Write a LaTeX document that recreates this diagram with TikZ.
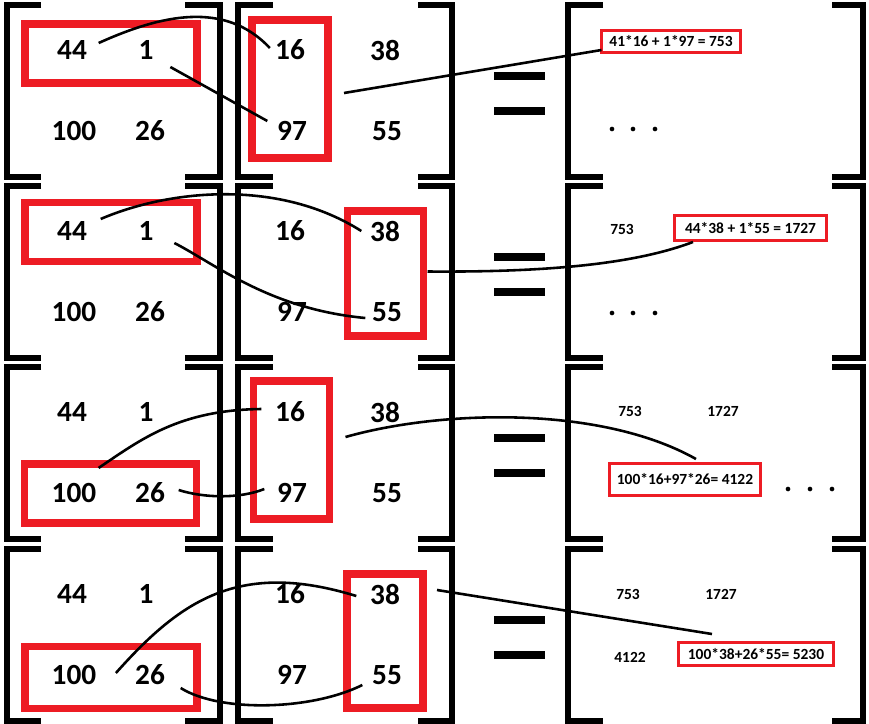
\documentclass[tikz,border=0pt]{standalone}
\usepackage{fontspec}
\setmainfont{Carlito}
\definecolor{PaintRed}{RGB}{237,28,36}
\tikzset{
  num/.style={font=\fontsize{25}{25}\selectfont\bfseries,inner sep=2pt,outer sep=0pt},
  entry/.style={font=\fontsize{13.2}{14}\selectfont\bfseries,inner sep=1pt,outer sep=0pt},
  brk/.style={draw=black,line width=4.3pt},
  eqbar/.style={draw=black,line width=7pt},
  link/.style={draw=black,line width=2.2pt},
  rowsel/.style={draw=PaintRed,line width=6.8pt,outer sep=0pt,
    minimum width=5.16cm,minimum height=1.77cm},
  colsel/.style={draw=PaintRed,line width=6.8pt,outer sep=0pt,
    minimum width=2.28cm,minimum height=4.14cm},
  resbox/.style={draw=PaintRed,line width=2.8pt,outer sep=0pt,inner sep=0pt,
    font=\fontsize{13.2}{14}\selectfont\bfseries},
}

\begin{document}
\begin{tikzpicture}[x=0.03cm,y=-0.03cm]
\useasboundingbox (0,0) rectangle (869,723);
% selected row and column
\node[rowsel] (rsel1) at (111,53.5) {};
\node[colsel] (csel1) at (290,89) {};
\node[rowsel] (rsel2) at (111,232) {};
\node[colsel,minimum height=3.75cm] (csel2) at (385.5,273.5) {};
\node[rowsel] (rsel3) at (110.5,493.5) {};
\node[colsel] (csel3) at (291.5,450) {};
\node[rowsel,minimum height=1.86cm] (rsel4) at (111,677.5) {};
\node[colsel,minimum height=4.02cm] (csel4) at (385,641) {};

% brackets, entries and equals signs
\foreach \r/\oy in {1/0,2/181,3/362,4/544}{
  \foreach \xa/\xb in {7/41,220/185,238/273,452/418,568/603,863/832}
    \draw[brk] (\xb,\oy+5) -- (\xa,\oy+5) -- (\xa,\oy+177) -- (\xb,\oy+177);
  \draw[eqbar] (494,\oy+76) -- (545,\oy+76);
  \draw[eqbar] (494,\oy+111) -- (545,\oy+111);
  \node[num] (l11-\r) at (72,\oy+50) {44};
  \node[num] (l12-\r) at (146,\oy+50) {1};
  \node[num] (l21-\r) at (74,\oy+131) {100};
  \node[num] (l22-\r) at (150,\oy+131) {26};
  \node[num] (r11-\r) at (290,\oy+50) {16};
  \node[num] (r12-\r) at (385,\oy+50) {38};
  \node[num] (r21-\r) at (292,\oy+131) {97};
  \node[num] (r22-\r) at (387,\oy+131) {55};
}

% result entries
\node[resbox,minimum width=4.17cm,minimum height=0.66cm] (res1) at (671,41.5) {41*16 + 1*97 = 753};
\node[entry] (p753-2) at (622,229) {753};
\node[resbox,minimum width=4.56cm,minimum height=0.75cm] (res2) at (750.5,228) {44*38 + 1*55 = 1727};
\node[entry] (p753-3) at (630,411) {753};
\node[entry] (p1727-3) at (723,411) {1727};
\node[resbox,minimum width=4.53cm,minimum height=0.96cm] (res3) at (685,479.5) {100*16+97*26= 4122};
\node[entry] (p753-4) at (628,594) {753};
\node[entry] (p1727-4) at (721,594) {1727};
\node[entry] (p4122-4) at (630,657) {4122};
\node[resbox,minimum width=4.65cm,minimum height=0.69cm] (res4) at (756,654) {100*38+26*55= 5230};
\foreach \y in {129,313}
  \foreach \x in {612,633,655} \fill (\x,\y) circle[radius=2pt];
\foreach \x in {788,810,832} \fill (\x,489) circle[radius=2pt];

% row 1
\draw[link] ([shift={(9.5,-7)}]l11-1.east) .. controls +(62,-28) and +(-45,-48) .. ([shift={(-3,-2)}]r11-1.west);
\draw[link] ([shift={(14.6,17)}]l12-1.east) -- ([shift={(-7.5,-10)}]r21-1.west);
\coordinate (o1) at ([shift={(16,4)}]csel1.east);
\draw[link] (o1) -- ([shift={(0,8.5)}]res1.west);
% row 2
\draw[link] ([shift={(11.5,-12)}]l11-2.east) .. controls +(70,-30) and +(-82,-52) .. ([shift={(-6.5,0)}]r12-2.west);
\draw[link] ([shift={(18.6,12)}]l12-2.east) .. controls +(41,21) and +(-96,-9) .. ([shift={(-4.5,6)}]r22-2.west);
\draw[link] ([shift={(4,-2)}]csel2.east) .. controls +(132,1) and +(-53,20) .. ([shift={(18.5,1.5)}]res2.south west);
% row 3
\draw[link] ([shift={(0,-13)}]l21-3.north east) .. controls +(43,-29) and +(-82,1) .. ([shift={(-11.5,-3)}]r11-3.west);
\draw[link] ([shift={(11.5,-3)}]l22-3.east) .. controls +(25,8) and +(-25,10) .. ([shift={(-10.5,-4)}]r21-3.west);
\coordinate (o3) at ([shift={(16,-13)}]csel3.east);
\draw[link] (o3) .. controls +(95,-27) and +(-96,-54) .. ([shift={(11,-4.5)}]res3.north);
% row 4
\draw[link] ([shift={(17.3,-2)}]l21-4.east) .. controls +(65,-73) and +(-117,-36) .. ([shift={(-11.5,2)}]r12-4.west);
\draw[link] ([shift={(13.5,13)}]l22-4.east) .. controls +(40,25) and +(-50,25) .. ([shift={(-7.5,10)}]r22-4.west);
\coordinate (o4) at ([shift={(14,16)}]csel4.north east);
\draw[link] (o4) -- ([shift={(33.5,-8.5)}]res4.north west);
\end{tikzpicture}
\end{document}
